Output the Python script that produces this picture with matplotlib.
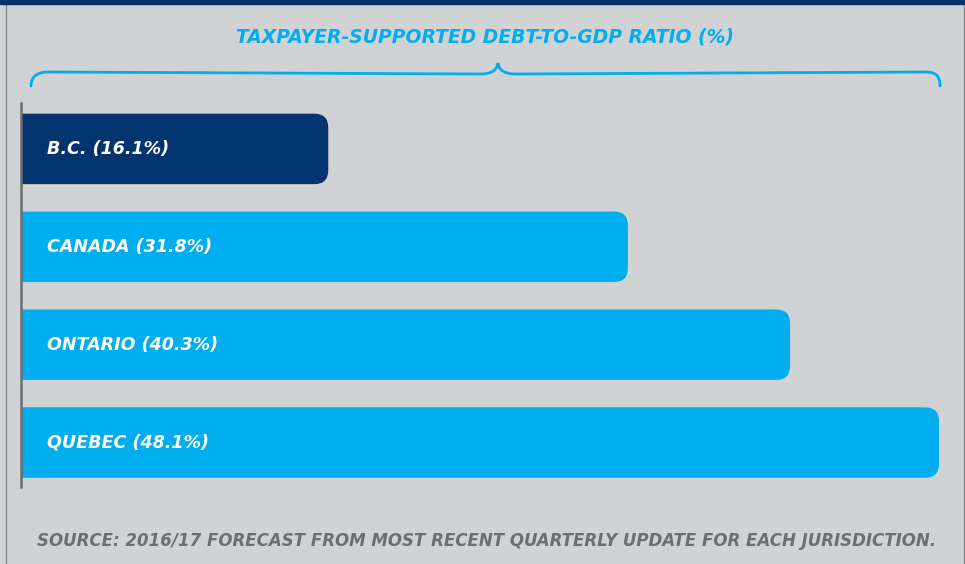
import matplotlib
matplotlib.use("Agg")
import matplotlib.pyplot as plt
from matplotlib.patches import Rectangle, PathPatch
from matplotlib.path import Path

# data
regions = ["B.C.", "CANADA", "ONTARIO", "QUEBEC"]
ratios = [16.1, 31.8, 40.3, 48.1]
bar_colors = ["#03346e", "#00aeef", "#00aeef", "#00aeef"]
title = "TAXPAYER-SUPPORTED DEBT-TO-GDP RATIO (%)"
source = "SOURCE: 2016/17 FORECAST FROM MOST RECENT QUARTERLY UPDATE FOR EACH JURISDICTION."

bg = "#d1d2d4"
blue = "#00aeef"
grey = "#6d6e71"
W, H = 965, 564

fig = plt.figure(figsize=(W / 100, H / 100), dpi=100, facecolor=bg)

# frame: navy strip on top, thin grey sides
fig.patches.append(Rectangle((0, 1 - 4 / H), 1, 4 / H, transform=fig.transFigure,
                             color="#03346e", zorder=5))
fig.add_artist(plt.Line2D([6 / W, 6 / W], [0, 1], transform=fig.transFigure, color="#8a8b8d", lw=1))
fig.add_artist(plt.Line2D([963.5 / W, 963.5 / W], [0, 1], transform=fig.transFigure, color="#8a8b8d", lw=1))

ax_left, ax_top, ax_bot = 21, 103, 487
ax_w = 918
ax = fig.add_axes([ax_left / W, 1 - ax_bot / H, ax_w / W, (ax_bot - ax_top) / H])
ax.set_facecolor(bg)
ylo, yhi = -0.469, 3.454
ax.set_xlim(0, max(ratios))
ax.set_ylim(yhi, ylo)

h = 0.72
xpp = ax_w / max(ratios)
ypp = (ax_bot - ax_top) / (yhi - ylo)
r_px = 14
rx = r_px / xpp
ry = r_px / ypp

def bar_path(v, yc):
    y0, y1 = yc - h / 2, yc + h / 2
    verts = [(0, y0), (v - rx, y0), (v, y0), (v, y0 + ry),
             (v, y1 - ry), (v, y1), (v - rx, y1), (0, y1), (0, y0)]
    codes = [Path.MOVETO, Path.LINETO, Path.CURVE3, Path.CURVE3,
             Path.LINETO, Path.CURVE3, Path.CURVE3, Path.LINETO, Path.CLOSEPOLY]
    return Path(verts, codes)

for i, (name, v, c) in enumerate(zip(regions, ratios, bar_colors)):
    ax.add_patch(PathPatch(bar_path(v, i), fc=c, ec="none", clip_on=False))
    ax.annotate(f"{name} ({v}%)", xy=(0, i), xytext=(19, 0), textcoords="offset points",
                ha="left", va="center", color="white", fontsize=12.6,
                fontweight="bold", fontstyle="italic", family="DejaVu Sans")

for s in ["top", "right", "bottom"]:
    ax.spines[s].set_visible(False)
ax.spines["left"].set_color(grey)
ax.spines["left"].set_linewidth(1.8)
ax.set_xticks([])
ax.set_yticks([])

# title and brace
fig.text(485 / W, 1 - 37 / H, title, ha="center", va="center", color=blue, fontsize=13.5,
         fontweight="bold", fontstyle="italic", family=["DejaVu Sans Condensed", "DejaVu Sans"])

def px(x, y):
    return (x / W, 1 - y / H)

verts = [px(31, 86), px(31, 76), px(38, 72), px(48, 72),
         px(480, 74),
         px(492, 74), px(497, 70), px(498, 63),
         px(499, 70), px(504, 74), px(516, 74),
         px(926, 72),
         px(936, 72), px(940, 76), px(940, 86)]
codes = [Path.MOVETO, Path.CURVE4, Path.CURVE4, Path.CURVE4,
         Path.LINETO,
         Path.CURVE4, Path.CURVE4, Path.CURVE4,
         Path.CURVE4, Path.CURVE4, Path.CURVE4,
         Path.LINETO,
         Path.CURVE4, Path.CURVE4, Path.CURVE4]
fig.patches.append(PathPatch(Path(verts, codes), transform=fig.transFigure, fc="none",
                             ec=blue, lw=2, capstyle="round"))

fig.text(487 / W, 1 - 541 / H, source, ha="center", va="center", color=grey, fontsize=12,
         fontweight="bold", fontstyle="italic", family="DejaVu Sans")

fig.savefig("out.png", dpi=100, facecolor=bg)
